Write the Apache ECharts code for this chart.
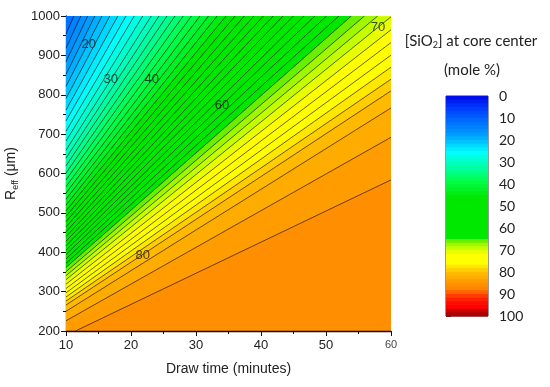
<!DOCTYPE html>
<html><head><meta charset="utf-8">
<script src="https://cdn.jsdelivr.net/npm/echarts@6/dist/echarts.min.js"></script>
<style>html,body{margin:0;padding:0;background:#fff}#c{width:550px;height:387px}</style>
</head><body><div id="c"></div>
<script>
// Contour levels (mole % SiO2) and where each contour line enters / leaves the plot
const levels = [13.33,15,16.67,18.33,20,21.67,23.33,25,26.67,28.33,30,31.67,33.33,35,36.67,38.33,40,41.67,43.33,45,46.67,48.33,50,51.67,53.33,55,56.67,58.33,60,61.67,63.33,65,66.67,68.33,70,71.67,73.33,75,76.67,78.33,80,81.67,83.33,85];
const startT = [10,10,10,10,10,10,10,10,10,10,10,10,10,10,10,10,10,10,10,10,10,10,10,10,10,10,10,10,10,10,10,10,10,10,10,10,10,10,10,10,10,10,10,11.45];
const startR = [954.7,918.1,883.9,851.7,821.3,790.5,761.1,733.6,707.4,682.5,659.0,639.0,619.7,601.3,583.6,566.6,550.2,534.7,519.9,505.3,491.3,477.8,464.5,452.0,439.8,428.1,416.5,405.2,394.3,383.1,372.0,361.3,350.6,340.5,330.4,318.9,307.8,296.9,286.4,276.0,265.9,250.0,226.0,200];
const endT = [11.21,12.27,13.35,14.44,15.54,16.74,17.98,19.23,20.50,21.81,23.12,24.31,25.53,26.77,28.03,29.31,30.61,31.93,33.25,34.62,36.02,37.44,38.91,40.37,41.88,43.40,45.00,46.62,48.28,50.08,51.98,53.90,55.92,57.96,60,60,60,60,60,60,60,60,60,60];
const endR = [1000,1000,1000,1000,1000,1000,1000,1000,1000,1000,1000,1000,1000,1000,1000,1000,1000,1000,1000,1000,1000,1000,1000,1000,1000,1000,1000,1000,1000,1000,1000,1000,1000,1000,998,965,932.5,900.5,870,839.5,809.9,766.5,692,583.8];
const contourLabels = ['20','30','40','60','70','80'];
const labelT = [13.5,16.9,23.2,34.0,58.0,21.8];
const labelR = [929,838,838,774,972,393];
const colorbarTicks = [0,10,20,30,40,50,60,70,80,90,100];
const xTicks = [10,20,30,40,50,60];
const yTicks = [200,300,400,500,600,700,800,900,1000];
// colour scale of the colour bar (value -> colour)
const colorStops = [[0,'#0008e8'],[6,'#0040ff'],[12,'#0070ff'],[17,'#0098ff'],[20,'#00b8ff'],[23,'#00e0ff'],[25.5,'#00ffff'],[29,'#00ffd0'],[33.5,'#00ff98'],[38,'#00ff50'],[43,'#00f020'],[46,'#00e800'],[65,'#00e800'],[66,'#80f000'],[69,'#c0ff00'],[72,'#ffff00'],[76,'#ffff00'],[78,'#ffe000'],[80,'#ffc000'],[83,'#ffa800'],[85,'#ff9400'],[88,'#ff8200'],[90.5,'#ff4000'],[93.5,'#ff1000'],[96,'#ff0000'],[98,'#c00000'],[100,'#a00000']];
const levelStep = 5/3;

function hex(c){return [parseInt(c.slice(1,3),16),parseInt(c.slice(3,5),16),parseInt(c.slice(5,7),16)];}
function cmap(v){
  for(let i=1;i<colorStops.length;i++){
    if(v<=colorStops[i][0]){
      const a=colorStops[i-1], b=colorStops[i];
      const f=(v-a[0])/(b[0]-a[0]);
      const ca=hex(a[1]), cb=hex(b[1]);
      return 'rgb('+ca.map((x,k)=>Math.round(x+(cb[k]-x)*f)).join(',')+')';
    }
  }
  return colorStops[colorStops.length-1][1];
}

const series = [];
for(let i=levels.length-1;i>=0;i--){
  const pts=[];
  if(startT[i]>xTicks[0]) pts.push([xTicks[0],yTicks[0]]);
  pts.push([startT[i],startR[i]]);
  pts.push([endT[i],endR[i]]);
  series.push({
    type:'line', xAxisIndex:0, yAxisIndex:0, data:pts, symbol:'none', silent:true, animation:false,
    lineStyle:{color:'rgba(10,0,0,0.68)',width:0.9},
    areaStyle:{origin:'end',color:cmap(levels[i]-levelStep/2),opacity:1}
  });
}
series.push({
  type:'scatter', xAxisIndex:0, yAxisIndex:0, symbol:'circle', symbolSize:1, silent:true, animation:false,
  itemStyle:{color:'rgba(0,0,0,0)'},
  data: contourLabels.map((t,i)=>[labelT[i],labelR[i],t]),
  label:{show:true,position:'inside',formatter:p=>p.value[2],color:'#1a1a1a',fontSize:13,fontFamily:'Liberation Sans'},
  z:10
});
// colour bar bands
const bands=[];
for(let v=0; v<100-1e-6; v+=levelStep){ bands.push([v, Math.min(100,v+levelStep)]); }
series.push({
  type:'custom', xAxisIndex:1, yAxisIndex:1, silent:true, animation:false,
  data: bands,
  encode:{y:[0,1]},
  renderItem:(params,api)=>{
    const lo=api.value(0), hi=api.value(1);
    const p1=api.coord([0,lo]), p2=api.coord([1,hi]);
    return {type:'rect',shape:{x:p1[0],y:Math.min(p1[1],p2[1]),width:p2[0]-p1[0],height:Math.abs(p2[1]-p1[1])+0.6},
      style:{fill:cmap((lo+hi)/2)}};
  }
});

const chart = echarts.init(document.getElementById('c'),null,{renderer:'canvas'});
chart.setOption({
  backgroundColor:'#fff',
  animation:false,
  grid:[
    {left:66,top:16,width:325,height:315,show:true,backgroundColor:cmap(levels[levels.length-1]+levelStep/2),borderWidth:0,containLabel:false,outerBoundsMode:'none'},
    {left:446,top:96,width:42,height:220,show:true,borderColor:'#333',borderWidth:1,backgroundColor:'transparent',containLabel:false,outerBoundsMode:'none'}
  ],
  xAxis:[
    {type:'value',gridIndex:0,min:10,max:60,interval:10,
     axisLine:{show:true,onZero:false,lineStyle:{color:'#111',width:1.3}},
     axisTick:{show:true,length:5,lineStyle:{color:'#111'}},
     minorTick:{show:true,splitNumber:2,length:3,lineStyle:{color:'#111'}},
     splitLine:{show:false},
     axisLabel:{fontSize:13,color:'#222',margin:8,fontFamily:'Liberation Sans',
       formatter:v=>v===60?'{s|60}':String(v),rich:{s:{fontSize:11,color:'#444',fontFamily:'Liberation Sans'}}},
     name:'Draw time (minutes)',nameLocation:'middle',nameGap:31,
     nameTextStyle:{fontSize:14,color:'#222',fontFamily:'Liberation Sans'}},
    {type:'value',gridIndex:1,min:0,max:1,show:false}
  ],
  yAxis:[
    {type:'value',gridIndex:0,min:200,max:1000,interval:100,
     axisLine:{show:true,onZero:false,lineStyle:{color:'#111',width:1.3}},
     axisTick:{show:true,length:5,lineStyle:{color:'#111'}},
     minorTick:{show:true,splitNumber:2,length:3,lineStyle:{color:'#111'}},
     splitLine:{show:false},
     axisLabel:{fontSize:13,color:'#222',margin:6,fontFamily:'Liberation Sans',formatter:v=>String(v)},
     name:'R{e|eff} (μm)',nameLocation:'middle',nameGap:45,nameRotate:90,
     nameTextStyle:{fontSize:14,lineHeight:18,color:'#222',fontFamily:'Liberation Sans',
       rich:{e:{fontSize:9,lineHeight:9,verticalAlign:'bottom',color:'#222',fontFamily:'Liberation Sans'}}}},
    {type:'value',gridIndex:1,min:0,max:100,interval:10,inverse:true,position:'right',
     axisLine:{show:false},
     axisTick:{show:true,length:5,lineStyle:{color:'#333'}},
     splitLine:{show:false},
     axisLabel:{fontSize:14,color:'#222',margin:11,fontFamily:'Lato'}}
  ],
  graphic:[
    {type:'text',x:471,y:41,style:{text:'[SiO{s|2}] at core center',x:0,y:0,align:'center',verticalAlign:'middle',
      fontSize:15,lineHeight:18,fontFamily:'Lato',fill:'#222',
      rich:{s:{fontSize:9,lineHeight:9,verticalAlign:'bottom',fontFamily:'Lato',fill:'#222'}}}},
    {type:'text',x:472,y:70,style:{text:'(mole %)',align:'center',verticalAlign:'middle',fontSize:15,fontFamily:'Lato',fill:'#222'}}
  ],
  series:series
});
</script></body></html>
